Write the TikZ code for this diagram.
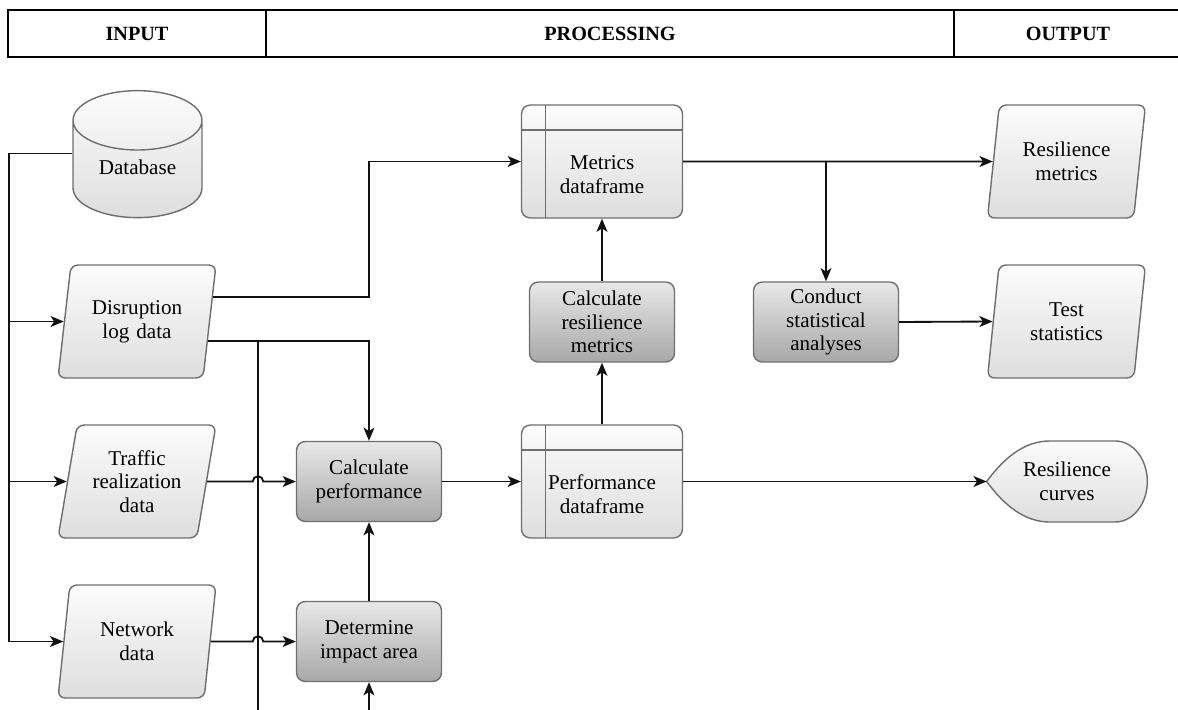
\documentclass[tikz,border=0pt]{standalone}
\usepackage{fontspec}
\setmainfont{Liberation Serif}
\usepackage{tikz}
\usetikzlibrary{calc}
\usetikzlibrary{backgrounds}
\usetikzlibrary{arrows.meta}
\usetikzlibrary{shapes.geometric}
\usetikzlibrary{positioning}

\definecolor{edgegray}{HTML}{6E6E6E}
\definecolor{procTop}{HTML}{E8E8E8}
\definecolor{procBot}{HTML}{A8A8A8}
\definecolor{dataTop}{HTML}{FCFCFC}
\definecolor{dataBot}{HTML}{DEDEDE}
\definecolor{wireblack}{HTML}{111111}

\tikzset{flow/.style={line width=1.05pt, draw=wireblack}}

\begin{document}
\begin{tikzpicture}[x=0.02cm, y=-0.02cm, font=\fontsize{12}{13.5}\selectfont]
\tikzset{arr/.style={flow, -{Stealth[length=7.5pt, width=6.2pt, inset=2pt]}}}
\tikzset{hdr/.style={draw=black, line width=0.6pt, minimum height=0.94cm, font=\fontsize{11.5}{13}\selectfont\bfseries}}
\tikzset{proc/.style={rectangle, rounded corners=5pt, draw=edgegray, line width=0.8pt, top color=procTop, bottom color=procBot, minimum width=2.9cm, minimum height=1.6cm, align=center, inner sep=1pt}}
\tikzset{data/.style={trapezium, trapezium left angle=73, trapezium right angle=107, trapezium stretches body, rounded corners=4pt, draw=edgegray, line width=0.8pt, top color=dataTop, bottom color=dataBot, minimum width=3.16cm, minimum height=2.26cm, text width=2.2cm, align=center, inner sep=0pt}}
\tikzset{store/.style={rectangle, rounded corners=5pt, draw=edgegray, line width=0.8pt, top color=dataTop, bottom color=dataBot, minimum width=3.22cm, minimum height=2.26cm,
  path picture={\draw[edgegray, line width=0.8pt] ([xshift=0.48cm]path picture bounding box.north west) -- ([xshift=0.48cm]path picture bounding box.south west)
  ([yshift=-0.5cm]path picture bounding box.north west) -- ([yshift=-0.5cm]path picture bounding box.north east);}}}
\tikzset{storetxt/.style={align=center, yshift=-0.26cm}}
\tikzset{dbase/.style={cylinder, shape border rotate=90, aspect=0.667, draw=edgegray, line width=0.8pt, top color=dataTop, bottom color=dataBot, minimum width=2.58cm, minimum height=2.54cm}}

\pgfmathsetmacro{\busx}{9}
\pgfmathsetmacro{\tapx}{258}

\useasboundingbox (0,0) rectangle (1178,710);
\clip (0,0) rectangle (1178,710);

% header
\node[hdr, minimum width=5.16cm] (hin) at (137,33.5) {INPUT};
\node[hdr, minimum width=13.76cm] (hpro) at (610,33.5) {PROCESSING};
\node[hdr, minimum width=4.56cm] (hout) at (1068,33.5) {OUTPUT};
\draw[line width=1.1pt] (hin.north west) -- (hout.north east) (hin.south west) -- (hout.south east);

% input
\node[dbase, label={[yshift=0.16cm]center:Database}] (db) at (137.5,175.5) {\phantom{Database}};
\node[data] (dis) at (137,321.5) {Disruption\\log data};
\node[data] (trf) at (137,481.5) {Traffic\\realization\\data};
\node[data] (net) at (137,641.5) {Network\\data};

% processing
\node[proc] (cperf) at (369,481.5) {Calculate\\performance};
\node[proc] (dimp) at (369,641.5) {Determine\\impact area};
\node[proc] (cres) at (602,322) {Calculate\\resilience\\metrics};
\node[proc] (cstat) at (826,322) {Conduct\\statistical\\analyses};
\node[store, label={[storetxt]center:Metrics\\dataframe}] (met) at (602,161.5) {};
\node[store, label={[storetxt]center:Performance\\dataframe}] (perf) at (602,481.5) {};

% output
\node[data] (rmet) at (1066.5,161.5) {Resilience\\metrics};
\node[data] (tst) at (1066.5,321.5) {Test\\statistics};
\node[align=center, minimum width=3.2cm, minimum height=1.62cm] (crv) at (1067,481.5) {Resilience\\curves};
\begin{scope}[on background layer]
\shade[top color=dataTop, bottom color=dataBot, draw=edgegray, line width=0.8pt]
  (crv.west) .. controls ($(crv.west)+(22,-30)$) and ($(crv.west)+(43,-40.5)$) .. ($(crv.west)+(63,-40.5)$)
  -- ($(crv.east)+(-32,-40.5)$) arc[start angle=90, end angle=-90, x radius=0.64cm, y radius=0.81cm]
  -- ($(crv.west)+(63,40.5)$) .. controls ($(crv.west)+(43,40.5)$) and ($(crv.west)+(22,30)$) .. (crv.west) -- cycle;
\end{scope}

% connectors
\coordinate (bus) at (\busx,0);
\coordinate (tap) at (\tapx,0);
\coordinate (dbout) at ([yshift=0.44cm]db.west);
\coordinate (dout1) at ($(dis.top right corner)!0.283!(dis.bottom right corner)$);
\coordinate (dout2) at ($(dis.top right corner)!0.673!(dis.bottom right corner)$);

\draw[arr] (dbout) -| (bus |- net.west) -- (net.west);
\draw[arr] (bus |- dis.west) -- (dis.west);
\draw[arr] (bus |- trf.west) -- (trf.west);

\draw[arr] (dout1) -| (cperf.north |- met.west) -- (met.west);
\draw[arr] (dout2) -| (cperf.north);
\draw[arr] (tap |- dout2) -- ++(0,420) -| (dimp.south);

\draw[arr] (trf.east) -- ([xshift=-3pt]tap |- trf.east) arc[start angle=180, end angle=0, radius=3pt] -- (cperf.west);
\draw[arr] (net.east) -- ([xshift=-3pt]tap |- net.east) arc[start angle=180, end angle=0, radius=3pt] -- (dimp.west);

\draw[arr] (dimp) -- (cperf);
\draw[arr] (cperf) -- (perf);
\draw[arr] (perf) -- (cres);
\draw[arr] (cres) -- (met);
\draw[arr] (met.east) -- (rmet.west);
\draw[arr] (met.east -| cstat.north) -- (cstat.north);
\draw[arr] (cstat.east) -- (tst.west);
\draw[arr] (perf.east) -- (crv.west);
\end{tikzpicture}
\end{document}
